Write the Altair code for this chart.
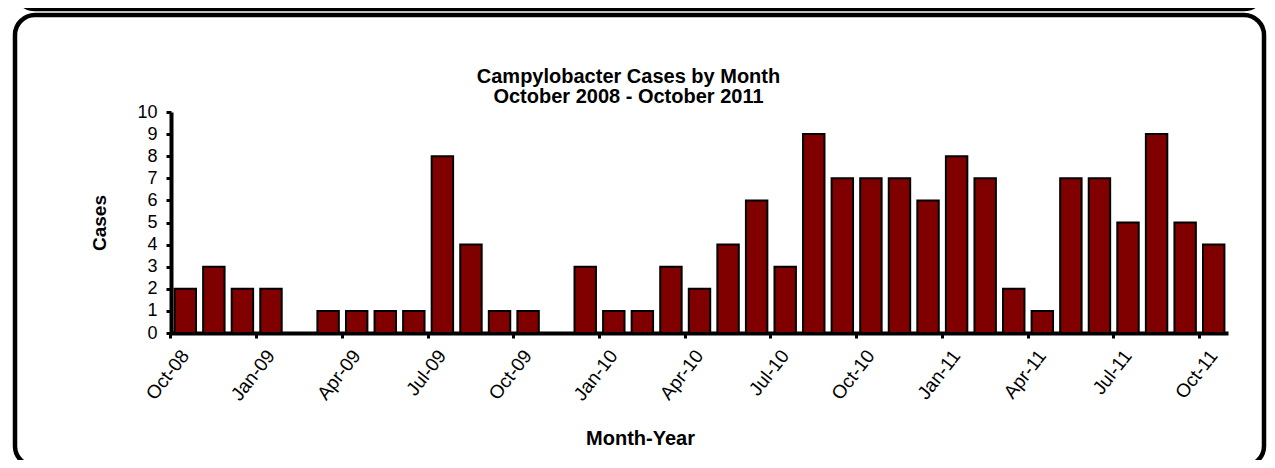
import altair as alt
import pandas as pd

months = ["Oct-08", "Nov-08", "Dec-08", "Jan-09", "Feb-09", "Mar-09", "Apr-09", "May-09",
          "Jun-09", "Jul-09", "Aug-09", "Sep-09", "Oct-09", "Nov-09", "Dec-09", "Jan-10",
          "Feb-10", "Mar-10", "Apr-10", "May-10", "Jun-10", "Jul-10", "Aug-10", "Sep-10",
          "Oct-10", "Nov-10", "Dec-10", "Jan-11", "Feb-11", "Mar-11", "Apr-11", "May-11",
          "Jun-11", "Jul-11", "Aug-11", "Sep-11", "Oct-11"]
cases = [2, 3, 2, 2, 0, 1, 1, 1, 1, 8, 4, 1, 1, 0, 3, 1, 1, 3, 2, 4, 6, 3, 9, 7, 7, 7, 6,
         8, 7, 2, 1, 7, 7, 5, 9, 5, 4]
tick_labels = months[::3]
y_ticks = list(range(0, 11))

df = pd.DataFrame({"month": months, "cases": cases})

FONT = "Liberation Sans"
W, H = 1057, 221

bars = alt.Chart(df).mark_bar(color="#800000", stroke="#000000", strokeWidth=2).encode(
    x=alt.X("month:N", sort=months,
            scale=alt.Scale(paddingInner=0.25, paddingOuter=0.125),
            axis=alt.Axis(values=tick_labels, title="Month-Year", labelAngle=-52,
                          labelAlign="right", labelBaseline="middle", labelPadding=14,
                          bandPosition=-0.1667, tickSize=5, tickWidth=3, tickColor="black",
                          domainWidth=4, domainColor="black", labelFontSize=19,
                          titleFontSize=20, titleX=469, titleY=111,
                          titleBaseline="alphabetic", titleAnchor="middle")),
    y=alt.Y("cases:Q", scale=alt.Scale(domain=[0, 10], nice=False),
            axis=alt.Axis(values=y_ticks, title="Cases", tickSize=5, tickWidth=3,
                          tickColor="black", domainWidth=4, domainColor="black",
                          labelFontSize=18, labelPadding=9, titleFontSize=19,
                          titlePadding=27, grid=False)),
)

frame = alt.Chart(alt.Data(values=[{"k": 1}])).mark_rect(
    filled=False, stroke="black", strokeWidth=4.5, cornerRadius=20
).encode(x=alt.value(-156), x2=alt.value(1093), y=alt.value(-97), y2=alt.value(354))

top_frame = alt.Chart(alt.Data(values=[{"k": 1}])).mark_rect(
    filled=False, stroke="black", strokeWidth=4.5, cornerRadius=20
).encode(x=alt.value(-156), x2=alt.value(1093), y=alt.value(-300), y2=alt.value(-103))

chart = alt.layer(top_frame, frame, bars).properties(
    width=W, height=H,
    autosize=alt.AutoSizeParams(type="none"),
    padding={"left": 163, "top": 104, "right": 39, "bottom": 127},
    title=alt.Title(["Campylobacter Cases by Month", "October 2008 - October 2011"],
                    fontSize=20, fontWeight="bold", font=FONT, anchor="middle",
                    dx=-71, dy=297, offset=0, lineHeight=20, color="black"),
).configure_axis(
    labelFont=FONT, titleFont=FONT, labelColor="black", titleColor="black",
    titleFontWeight="bold", grid=False
).configure_view(stroke=None)

chart.save("out.html", embed_options={"renderer": "svg", "actions": False})
